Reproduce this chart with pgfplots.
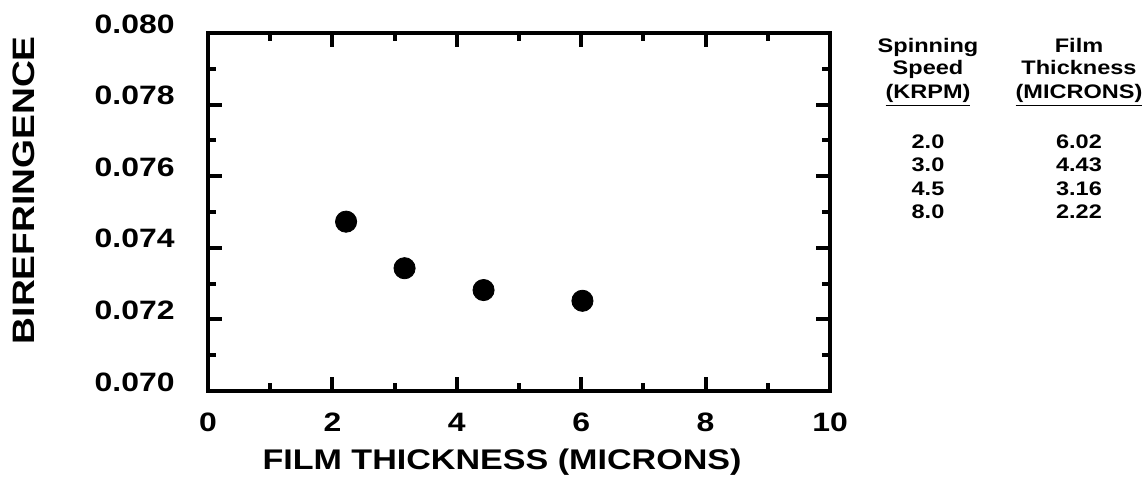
\documentclass[border=0pt]{standalone}
\usepackage{fontspec}
\setmainfont{Liberation Sans}[FakeStretch=1.2]
\usepackage{pgfplots}
\pgfplotsset{compat=1.18}
\begin{document}
\begin{tikzpicture}[x=1pt,y=1pt]
\useasboundingbox (-104,-48) rectangle (467.5,195.5);
\begin{axis}[
  at={(0,0)}, anchor=south west,
  scale only axis, width=311pt, height=179pt,
  xmin=0, xmax=10, ymin=0.070, ymax=0.080,
  scaled y ticks=false, scaled x ticks=false,
  xtick={0,2,4,6,8,10}, xticklabels={0,2,4,6,8,10},
  ytick={0.070,0.072,0.074,0.076,0.078,0.080},
  yticklabels={0.070,0.072,0.074,0.076,0.078,0.080},
  minor x tick num=1, minor y tick num=1,
  tick align=inside,
  major tick length=7pt, minor tick length=4pt,
  axis line style={line width=2.3pt, line cap=rect},
  every tick/.append style={line width=2pt, black},
  every minor tick/.append style={line width=2pt, black},
  every major tick/.append style={line width=2pt, black},
  tick label style={font=\fontsize{13.3}{15}\selectfont\bfseries},
  yticklabel style={anchor=east, inner sep=0pt, xshift=-16.5pt, yshift=4.5pt},
  xticklabel style={anchor=north, inner sep=0pt, yshift=-11pt},
  xlabel={FILM THICKNESS (MICRONS)},
  ylabel={BIREFRINGENCE},
  xlabel style={at={(axis description cs:0.4727,-0.198)}, anchor=center, font=\fontsize{14.2}{16}\selectfont\bfseries},
  ylabel style={at={(axis description cs:-0.296,0.561)}, anchor=center, rotate=0, font=\fontsize{15.5}{17}\selectfont\bfseries},
  clip=false,
]
\addplot[only marks, mark=*, mark size=5.3pt, black] coordinates {
  (2.22,0.07473) (3.16,0.07343) (4.43,0.07282) (6.02,0.07252)
};
\draw[line width=2.3pt, line cap=rect] (rel axis cs:0,0) rectangle (rel axis cs:1,1);
\end{axis}
\begin{scope}[every node/.style={font=\fontsize{9.8}{11}\selectfont\bfseries, anchor=base, inner sep=0pt}]
\node at (360,169) {Spinning};
\node at (360,158) {Speed};
\node at (360,146.3) {\underline{(KRPM)}};
\node at (360,121.3) {2.0};
\node at (360,109.6) {3.0};
\node at (360,98) {4.5};
\node at (360,86.3) {8.0};
\node at (435.5,169) {Film};
\node at (435.5,158) {Thickness};
\node at (435.5,146.3) {\underline{(MICRONS)}};
\node at (435.5,121.3) {6.02};
\node at (435.5,109.6) {4.43};
\node at (435.5,98) {3.16};
\node at (435.5,86.3) {2.22};
\end{scope}
\end{tikzpicture}
\end{document}
